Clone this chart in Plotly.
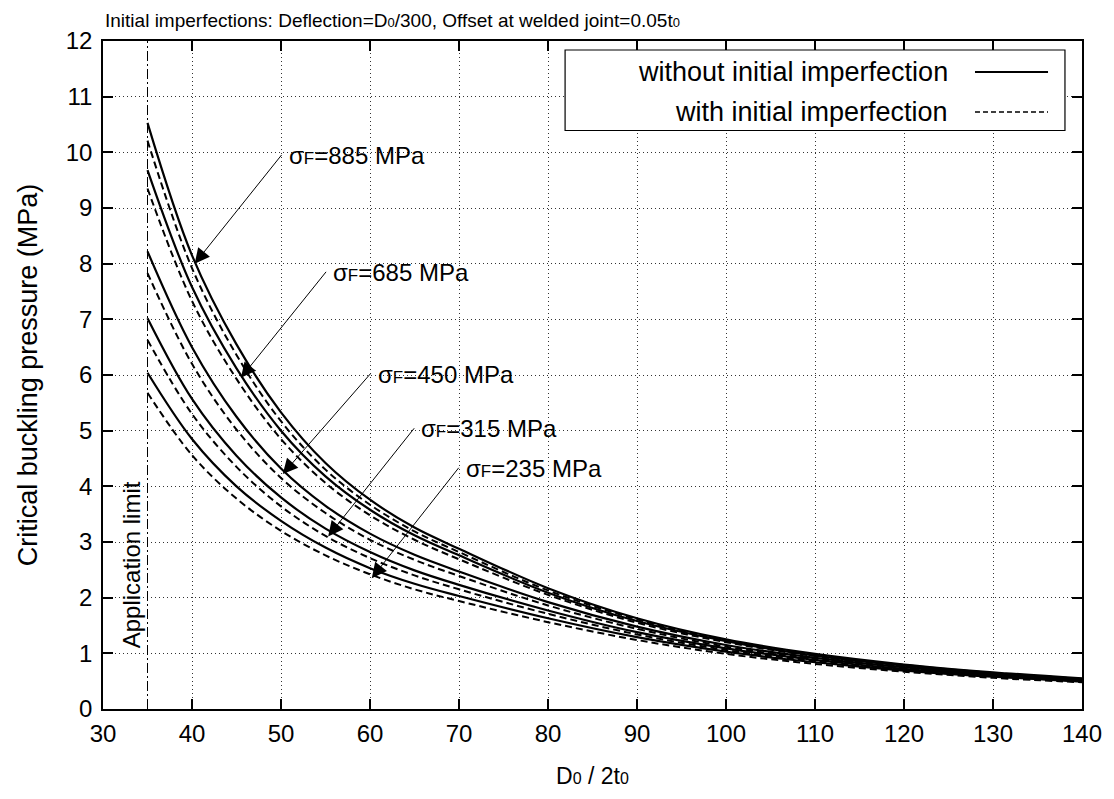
import plotly.graph_objects as go

# ---------------- data ----------------
d_ratio = [35, 40, 45, 50, 55, 60, 65, 70, 80, 90, 100, 110, 120, 130, 140]

p885_without = [10.53, 8.15, 6.55, 5.33, 4.42, 3.76, 3.26, 2.88, 2.17, 1.63, 1.25, 0.99, 0.80, 0.66, 0.55]
p885_with    = [10.21, 7.92, 6.36, 5.17, 4.30, 3.67, 3.19, 2.82, 2.13, 1.61, 1.23, 0.97, 0.79, 0.65, 0.54]
p685_without = [9.68, 7.58, 6.12, 5.00, 4.18, 3.58, 3.12, 2.76, 2.09, 1.58, 1.22, 0.96, 0.78, 0.64, 0.54]
p685_with    = [9.35, 7.33, 5.93, 4.85, 4.06, 3.48, 3.04, 2.69, 2.05, 1.55, 1.20, 0.95, 0.77, 0.64, 0.53]
p450_without = [8.22, 6.50, 5.25, 4.32, 3.65, 3.15, 2.77, 2.47, 1.92, 1.48, 1.15, 0.92, 0.75, 0.62, 0.52]
p450_with    = [7.83, 6.20, 5.02, 4.15, 3.52, 3.04, 2.68, 2.39, 1.86, 1.44, 1.12, 0.90, 0.73, 0.61, 0.51]
p315_without = [7.02, 5.57, 4.55, 3.80, 3.24, 2.82, 2.49, 2.23, 1.77, 1.38, 1.09, 0.88, 0.72, 0.60, 0.51]
p315_with    = [6.63, 5.30, 4.35, 3.64, 3.11, 2.71, 2.40, 2.15, 1.71, 1.34, 1.06, 0.86, 0.70, 0.59, 0.50]
p235_without = [6.04, 4.85, 4.00, 3.38, 2.90, 2.53, 2.25, 2.03, 1.63, 1.29, 1.03, 0.84, 0.69, 0.58, 0.49]
p235_with    = [5.68, 4.56, 3.78, 3.20, 2.76, 2.42, 2.15, 1.94, 1.56, 1.24, 0.99, 0.81, 0.67, 0.56, 0.48]

yield_strengths = ["885", "685", "450", "315", "235"]
# label arrow: tip (x, y) on the curve, tail (x, y) near the label
arrow_tip_x = [40.3, 45.5, 50.2, 55.3, 60.2]
arrow_tip_y = [8.00, 5.95, 4.22, 3.10, 2.35]
arrow_tail_x = [50.2, 55.2, 60.2, 65.1, 70.1]
arrow_tail_y = [9.98, 7.88, 6.05, 5.07, 4.36]

application_limit = 35
x_range = [30, 140]
y_range = [0, 12]

FONT = "Liberation Sans"

fig = go.Figure()

series = [
    (p885_without, p885_with),
    (p685_without, p685_with),
    (p450_without, p450_with),
    (p315_without, p315_with),
    (p235_without, p235_with),
]
for s_without, s_with in series:
    fig.add_trace(go.Scatter(x=d_ratio, y=s_without, mode="lines",
                             line=dict(color="black", width=2.2, shape="spline", smoothing=1.0),
                             showlegend=False, hoverinfo="skip"))
    fig.add_trace(go.Scatter(x=d_ratio, y=s_with, mode="lines",
                             line=dict(color="black", width=2, dash="7px,4px", shape="spline", smoothing=1.0),
                             showlegend=False, hoverinfo="skip"))

# application limit line
fig.add_trace(go.Scatter(x=[application_limit, application_limit], y=y_range, mode="lines",
                         line=dict(color="black", width=1, dash="10px,3px,2px,3px"),
                         showlegend=False, hoverinfo="skip"))

annotations = []
for lab, tx, ty, ax, ay in zip(yield_strengths, arrow_tip_x, arrow_tip_y, arrow_tail_x, arrow_tail_y):
    annotations.append(dict(x=tx, y=ty, ax=ax, ay=ay, xref="x", yref="y", axref="x", ayref="y",
                            text="", showarrow=True, arrowhead=2, arrowsize=3, arrowwidth=1,
                            arrowcolor="black", standoff=0))
    annotations.append(dict(x=ax, y=ay, xref="x", yref="y", xanchor="left", yanchor="middle",
                            xshift=4, yshift=-2, showarrow=False,
                            text="σ<span style='font-size:17px'>F</span>=" + lab + " MPa",
                            font=dict(family=FONT, size=24, color="black")))

annotations.append(dict(x=33.2, y=2.59, xref="x", yref="y", text="Application limit", textangle=-90,
                        showarrow=False, font=dict(family=FONT, size=24, color="black")))

SMALL0 = "<span style='font-size:13px'>0</span>"
annotations.append(dict(x=0, y=1, xref="paper", yref="paper", xanchor="left", yanchor="bottom",
                        yshift=8, showarrow=False,
                        text="Initial imperfections: Deflection=D" + SMALL0 + "/300, Offset at welded joint=0.05t" + SMALL0,
                        font=dict(family=FONT, size=19, color="black")))

# legend (text on the left, sample on the right, as in the reference)
lx0, lx1, ly0, ly1 = 0.472, 0.9826, 0.866, 0.9865
annotations.append(dict(x=0.8652, y=0.9536, xref="paper", yref="paper", xanchor="right", yanchor="middle",
                        showarrow=False, text="without initial imperfection",
                        font=dict(family=FONT, size=27, color="black")))
annotations.append(dict(x=0.8652, y=0.8938, xref="paper", yref="paper", xanchor="right", yanchor="middle",
                        showarrow=False, text="with initial imperfection",
                        font=dict(family=FONT, size=27, color="black")))
shapes = [
    dict(type="rect", xref="paper", yref="paper", x0=lx0, x1=lx1, y0=ly0, y1=ly1,
         line=dict(color="black", width=1.2), fillcolor="white", layer="above"),
    dict(type="line", xref="paper", yref="paper", x0=0.8907, x1=0.9653, y0=0.9536, y1=0.9536,
         line=dict(color="black", width=2)),
    dict(type="line", xref="paper", yref="paper", x0=0.8907, x1=0.9653, y0=0.8938, y1=0.8938,
         line=dict(color="black", width=1.5, dash="5px,3px")),
]

axis_common = dict(showline=True, linecolor="black", linewidth=1.5, mirror="ticks",
                   ticks="inside", ticklen=10, tickwidth=1.5, tickcolor="black",
                   showgrid=True, gridcolor="#333333", gridwidth=1, griddash="1px,3px",
                   zeroline=False, tickfont=dict(family=FONT, size=24, color="black"))

fig.update_layout(
    width=1114, height=799,
    margin=dict(l=95, r=40, t=33, b=98),
    paper_bgcolor="white", plot_bgcolor="white",
    xaxis=dict(range=x_range, dtick=10, tick0=30, ticklabelstandoff=2,
               title=dict(text="D<span style='font-size:16px'>0</span> / 2t<span style='font-size:16px'>0</span>",
                          standoff=22, font=dict(family=FONT, size=23, color="black")),
               **axis_common),
    yaxis=dict(range=y_range, dtick=1, tick0=0, ticklabelstandoff=4,
               title=dict(text="Critical buckling pressure (MPa)", standoff=20,
                          font=dict(family=FONT, size=27, color="black")),
               **axis_common),
    annotations=annotations,
    shapes=shapes,
    showlegend=False,
)

fig.write_html("out.html")
